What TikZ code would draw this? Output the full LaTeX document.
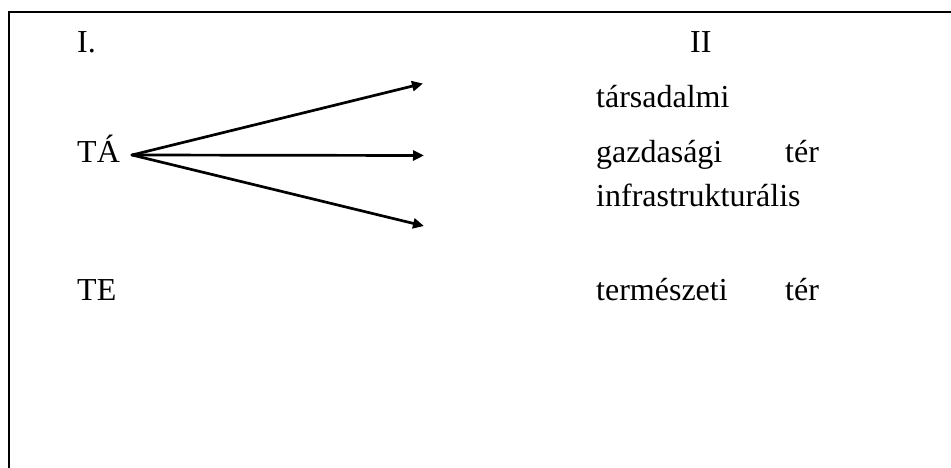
\documentclass[tikz,border=0pt]{standalone}
\usepackage{fontspec}
\setmainfont{Liberation Serif}
\usetikzlibrary{arrows.meta}
\tikzset{
  lbl/.style={anchor=base west, inner sep=0pt, font=\fontsize{32}{36}\selectfont},
  arr/.style={line width=2.7pt, line cap=round, -{Triangle[length=11pt,width=10pt]}},
  frame/.style={line width=2pt}
}
\begin{document}
\begin{tikzpicture}[x=1pt,y=-1pt]
\useasboundingbox[fill=white] (0,0) rectangle (951,468);
\draw[frame] (951,12.5) -- (8.5,12.5) -- (8.5,468);
\node[lbl] (one) at (77,53) {I.};
\node[lbl] (two) at (690,53) {II};
\node[lbl] (tarsadalmi) at (596,108) {társadalmi};
\node[lbl] (ta) at (77,163) {TÁ};
\node[lbl] (gazdasagi) at (596,163) {gazdasági};
\node[lbl] (ter1) at (785,163) {tér};
\node[lbl] (infra) at (596,207) {infrastrukturális};
\node[lbl] (te) at (77,300) {TE};
\node[lbl] (termeszeti) at (596,300) {természeti};
\node[lbl] (ter2) at (785,300) {tér};
\coordinate (src) at (132,155);
\coordinate (e1) at (423,83.5);
\coordinate (e2) at (424,155.5);
\coordinate (e3) at (424,226);
\draw[arr] (src) -- (e1);
\draw[arr] (src) -- (e2);
\draw[arr] (src) -- (e3);
\end{tikzpicture}
\end{document}
